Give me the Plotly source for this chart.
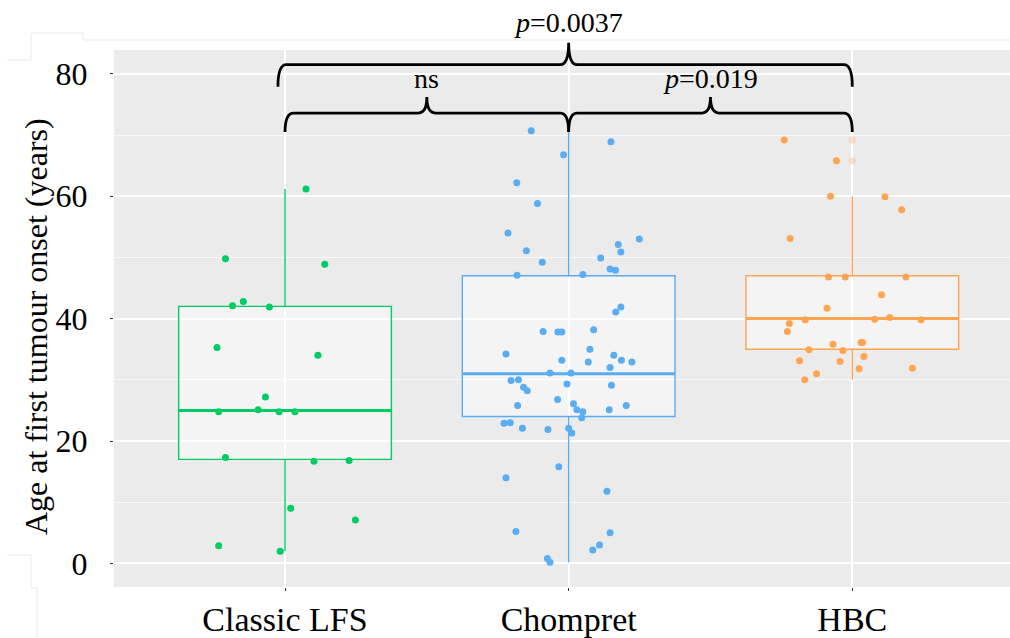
import plotly.graph_objects as go

# ---------------- data ----------------
categories = ["Classic LFS", "Chompret", "HBC"]

lfs_age = [61.2, 49.8, 48.9, 42.1, 42.8, 41.9, 35.3, 34.0, 27.2, 24.8, 25.1, 24.8, 24.8,
           17.3, 16.7, 16.8, 9.0, 7.1, 2.9, 2.0]
lfs_jit = [0.074, -0.21, 0.14, -0.185, -0.147, -0.055, -0.24, 0.116, -0.069, -0.234, -0.095,
           -0.021, 0.035, -0.21, 0.102, 0.226, 0.02, 0.248, -0.234, -0.017]

chompret_age = [70.7, 68.9, 66.8, 62.2, 58.8, 54.0, 53.0, 51.1, 52.1, 50.9, 49.2, 49.9, 48.1,
                47.9, 47.1, 47.2, 41.9, 41.1, 37.9, 37.8, 37.8, 38.2, 35.0, 34.2, 33.2, 32.9,
                34.0, 33.2, 32.9, 32.0, 31.1, 31.1, 29.9, 30.0, 28.8, 28.2, 29.3, 29.1, 26.8,
                25.8, 26.1, 25.1, 24.8, 25.1, 25.8, 23.8, 22.9, 23.0, 22.1, 21.9, 22.1, 21.3,
                15.8, 14.0, 11.8, 5.2, 5.0, 3.0, 2.2, 0.8, 0.2]
chompret_jit = [-0.132, 0.149, -0.018, -0.183, -0.11, -0.214, 0.249, -0.149, 0.175, 0.184,
                -0.093, 0.113, 0.146, 0.165, -0.182, 0.05, 0.184, 0.166, -0.09, -0.038, -0.024,
                0.088, 0.075, -0.221, -0.024, 0.069, 0.159, 0.186, 0.223, 0.146, -0.066, 0.008,
                -0.203, -0.177, -0.159, -0.146, -0.006, 0.151, -0.039, -0.18, 0.017, 0.029,
                0.05, 0.143, 0.203, 0.046, -0.228, -0.206, -0.163, -0.073, 0.0, 0.011, -0.035,
                -0.221, 0.135, -0.186, 0.146, 0.109, 0.085, -0.075, -0.066]

hbc_age = [69.2, 65.8, 60.0, 59.9, 57.8, 53.1, 46.8, 46.8, 46.8, 43.9, 41.7, 39.2, 39.8, 39.9,
           40.2, 39.8, 37.9, 35.8, 36.1, 36.1, 34.9, 34.8, 33.8, 33.1, 33.0, 31.8, 31.9, 31.0,
           30.0]
hbc_jit = [-0.24, -0.056, -0.077, 0.115, 0.174, -0.219, -0.084, -0.025, 0.189, 0.103, -0.089,
           -0.222, -0.166, 0.079, 0.132, 0.242, -0.229, -0.068, 0.031, 0.036, -0.153, -0.033,
           0.041, -0.186, -0.043, 0.024, 0.212, -0.126, -0.168]

# box-plot statistics
box_q1 = [17.0, 24.0, 35.0]
box_median = [25.0, 31.0, 40.0]
box_q3 = [42.0, 47.0, 47.0]
box_low = [2.0, 0.2, 30.0]
box_high = [61.2, 70.7, 60.0]

# comparisons (group a, group b, label)
comparisons = [(0, 1, "ns"), (1, 2, "<i>p</i>=0.019"), (0, 2, "<i>p</i>=0.0037")]

y_ticks = [0, 20, 40, 60, 80]

# ---------------- style ----------------
colors = ["#00CC63", "#5AADF0", "#FFA552"]
FONT = "Palatino Linotype, Book Antiqua, Palatino, Liberation Serif, serif"
X_RANGE = [-0.603, 2.556]
Y_RANGE = [-3.86, 83.9]
BOX_W = 0.75

groups_age = [lfs_age, chompret_age, hbc_age]
groups_jit = [lfs_jit, chompret_jit, hbc_jit]

fig = go.Figure()

for i, cat in enumerate(categories):
    fig.add_trace(go.Box(
        x=[i], q1=[box_q1[i]], median=[box_median[i]], q3=[box_q3[i]],
        lowerfence=[box_low[i]], upperfence=[box_high[i]],
        width=BOX_W, whiskerwidth=0, boxpoints=False,
        line=dict(color=colors[i], width=1.4),
        fillcolor="rgba(255,255,255,0.45)", name=cat, showlegend=False,
        hoverinfo="skip",
    ))
    fig.add_trace(go.Scatter(
        x=[i - BOX_W / 2, i + BOX_W / 2], y=[box_median[i], box_median[i]],
        mode="lines", line=dict(color=colors[i], width=3), showlegend=False,
        hoverinfo="skip",
    ))
    outl = [v for v in groups_age[i] if v > box_high[i] + 1e-9 or v < box_low[i] - 1e-9]
    if outl:
        fig.add_trace(go.Scatter(
            x=[i] * len(outl), y=outl, mode="markers",
            marker=dict(color=colors[i], size=7, opacity=0.3),
            showlegend=False, hoverinfo="skip",
        ))

for i, cat in enumerate(categories):
    fig.add_trace(go.Scatter(
        x=[i + j for j in groups_jit[i]], y=groups_age[i], mode="markers",
        marker=dict(color=colors[i], size=7, line=dict(width=0)),
        name=cat, showlegend=False,
    ))


def xp(v):
    return (v - X_RANGE[0]) / (X_RANGE[1] - X_RANGE[0])


def yp(v):
    return (v - Y_RANGE[0]) / (Y_RANGE[1] - Y_RANGE[0])


def brace(xa, xb, ye, yh, yt, xm=None, dx=0.03):
    if xm is None:
        xm = (xa + xb) / 2
    pts = (f"M {xp(xa)},{yp(ye)} Q {xp(xa)},{yp(yh)} {xp(xa + dx)},{yp(yh)} "
           f"L {xp(xm - dx)},{yp(yh)} Q {xp(xm)},{yp(yh)} {xp(xm)},{yp(yt)} "
           f"Q {xp(xm)},{yp(yh)} {xp(xm + dx)},{yp(yh)} "
           f"L {xp(xb - dx)},{yp(yh)} Q {xp(xb)},{yp(yh)} {xp(xb)},{yp(ye)}")
    return dict(type="path", path=pts, xref="paper", yref="paper",
                line=dict(color="black", width=2.8), layer="above")


shapes = []
annotations = []
for a, b, lab in comparisons[:2]:
    shapes.append(brace(a, b, 70.5, 73.6, 76.2))
    annotations.append(dict(x=xp((a + b) / 2), y=yp(79.3), xref="paper", yref="paper",
                            text=lab, showarrow=False, font=dict(size=28, color="black", family=FONT),
                            xanchor="center", yanchor="middle"))
a, b, lab = comparisons[2]
shapes.append(brace(a - 0.025, b, 77.9, 81.5, 85.1, xm=(a + b) / 2))
annotations.append(dict(x=xp((a + b) / 2), y=yp(88.4), xref="paper", yref="paper",
                        text=lab, showarrow=False, font=dict(size=28, color="black", family=FONT),
                        xanchor="center", yanchor="middle"))

annotations.append(dict(x=(36 - 114) / 896, y=0.484, xref="paper", yref="paper",
                        text="Age at first tumour onset (years)", textangle=-90, showarrow=False,
                        font=dict(size=32, color="black", family=FONT),
                        xanchor="center", yanchor="middle"))


def ppx(p):
    return (p - 114) / 896


def ppy(p):
    return (587 - p) / 537


for x0, y0, x1, y1 in [(32, 33, 83, 33), (83, 33, 83, 40), (83, 40, 1010, 40),
                       (31, 33, 31, 60), (7, 60, 31, 60), (7, 555, 31, 555),
                       (31, 555, 31, 588), (31, 588, 37, 588), (37, 588, 37, 638)]:
    shapes.append(dict(type="line", xref="paper", yref="paper", x0=ppx(x0), y0=ppy(y0),
                       x1=ppx(x1), y1=ppy(y1), line=dict(color="#EBEBEB", width=1), layer="below"))

fig.update_layout(
    width=1010, height=638,
    margin=dict(l=114, r=0, t=50, b=51, autoexpand=False),
    paper_bgcolor="white", plot_bgcolor="#EBEBEB",
    font=dict(family=FONT, color="black"),
    shapes=shapes, annotations=annotations,
    showlegend=False,
)
fig.update_xaxes(
    range=X_RANGE, tickvals=[0, 1, 2], ticktext=categories,
    showgrid=True, gridcolor="white", gridwidth=1.5, zeroline=False,
    ticks="outside", ticklen=3, tickcolor="#333333", tickwidth=1,
    tickfont=dict(size=34, family=FONT, color="black"), showline=False,
    ticklabelstandoff=-1,
)
fig.update_yaxes(
    range=Y_RANGE, tickvals=y_ticks,
    showgrid=True, gridcolor="white", gridwidth=1.5, zeroline=False,
    ticks="outside", ticklen=3, tickcolor="#333333", tickwidth=1,
    tickfont=dict(size=32, family=FONT, color="black"), showline=False,
    minor=dict(dtick=10, tick0=0, showgrid=True, gridcolor="rgba(255,255,255,0.7)", gridwidth=0.8, ticklen=0),
    ticklabelstandoff=16,
)

fig.write_html("out.html", config={"displayModeBar": False},
               post_script="document.body.style.margin='0';document.body.style.overflow='hidden';")
